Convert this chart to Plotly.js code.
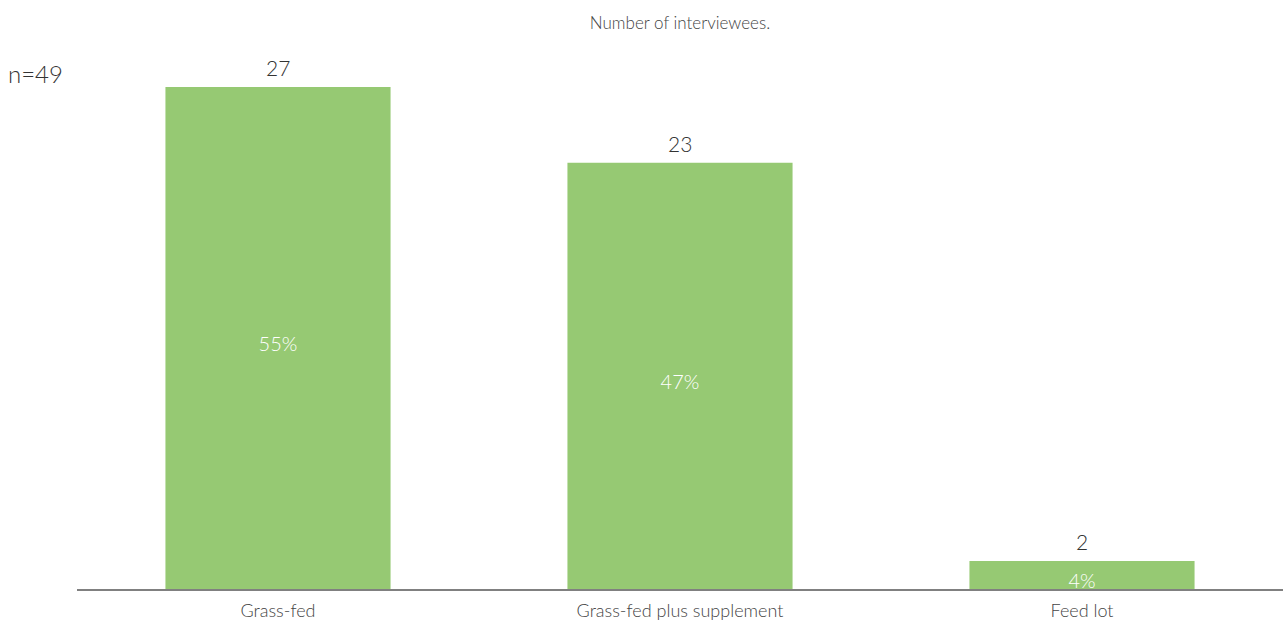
<!DOCTYPE html>
<html>
<head>
<meta charset="utf-8">
<script src="https://cdn.plot.ly/plotly-3.0.1.min.js"></script>
<style>html,body{margin:0;padding:0;background:#fff;}#chart{width:1283px;height:621px;}</style>
</head>
<body>
<div id="chart"></div>
<script>
const categories = ["Grass-fed", "Grass-fed plus supplement", "Feed lot"];
const counts = [27, 23, 2];
const percentLabels = ["55%", "47%", "4%"];
const sampleLabel = "n=49";
const chartTitle = "Number of interviewees.";

const FONT = "Lato, 'Open Sans', sans-serif";

const trace = {
  type: "bar",
  x: categories,
  y: counts,
  text: percentLabels,
  textposition: "inside",
  insidetextanchor: "middle",
  textfont: {family: FONT, size: 20, color: "#ffffff", weight: 300},
  marker: {color: "#96c973"},
  hoverinfo: "skip",
  cliponaxis: false
};

const annotations = categories.map((c, i) => ({
  x: c, y: counts[i], xref: "x", yref: "y",
  text: String(counts[i]), showarrow: false,
  yanchor: "bottom", yshift: 5,
  font: {family: FONT, size: 21, color: "#333", weight: 300}
}));
annotations.push({
  xref: "paper", yref: "paper", x: -0.0348, y: 0.975,
  xanchor: "center", yanchor: "middle",
  text: sampleLabel, showarrow: false,
  font: {family: FONT, size: 24, color: "#333", weight: 300}
});

const layout = {
  width: 1283, height: 621,
  margin: {l: 77, r: 0, t: 60, b: 32, pad: 0},
  paper_bgcolor: "#fff", plot_bgcolor: "#fff",
  title: {text: chartTitle, x: 0.53, xanchor: "center", y: 0.963, yanchor: "middle",
          font: {family: FONT, size: 17, color: "#444", weight: 300}},
  bargap: 0.44,
  showlegend: false,
  xaxis: {showline: true, linecolor: "#808080", linewidth: 2, ticks: "", ticklabelstandoff: 4,
          tickfont: {family: FONT, size: 18, color: "#444", weight: 300}, showgrid: false, zeroline: false, fixedrange: true},
  yaxis: {range: [0.52, 28.42], visible: false, showgrid: false, zeroline: false, fixedrange: true},
  annotations: annotations
};

Plotly.newPlot("chart", [trace], layout, {displayModeBar: false, staticPlot: true});
</script>
</body>
</html>
